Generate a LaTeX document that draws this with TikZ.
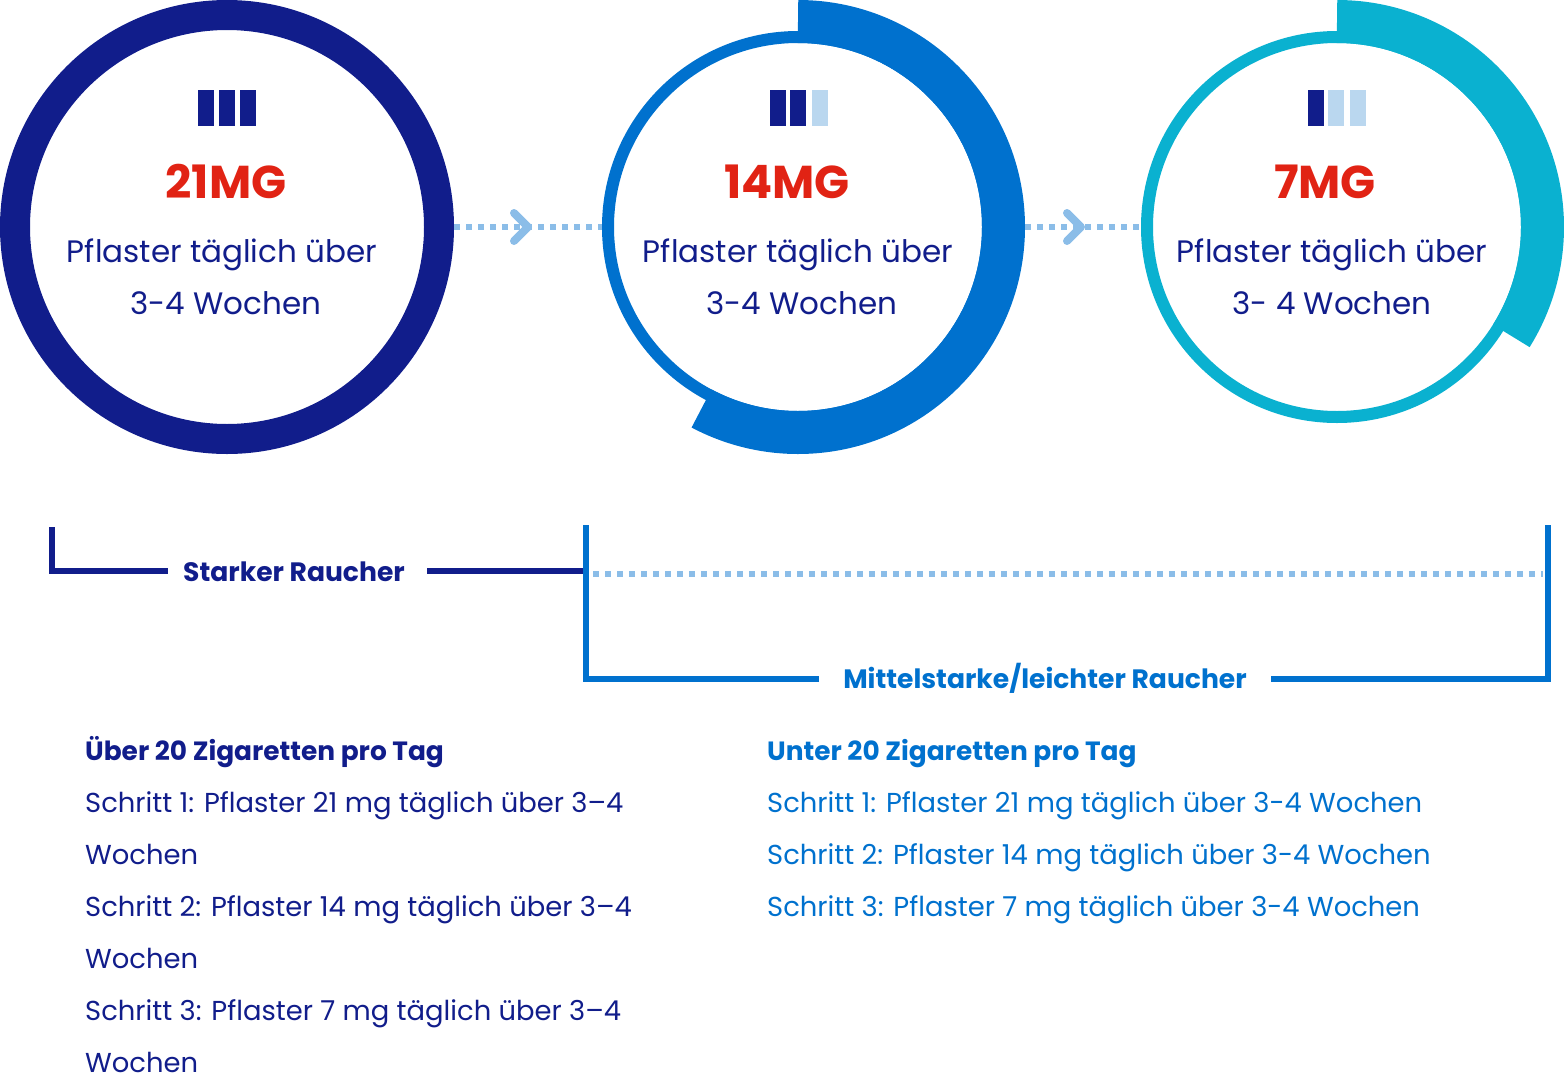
\documentclass[tikz,border=0pt]{standalone}
\usepackage{fontspec}
\setmainfont{Poppins}
\usetikzlibrary{calc}
\definecolor{navy}{RGB}{17,29,139}
\definecolor{mblue}{RGB}{0,113,206}
\definecolor{mcyan}{RGB}{10,177,208}
\definecolor{mred}{RGB}{225,35,20}
\definecolor{lbar}{RGB}{186,215,239}
\definecolor{dotc}{RGB}{139,189,232}
\begin{document}
\begin{tikzpicture}[x=1pt,y=-1pt,
  ring/.style={circle,inner sep=0pt},
  mg/.style={text=mred,font=\fontsize{46}{52}\selectfont\bfseries,inner sep=0pt,anchor=base},
  ctext/.style={text=navy,font=\fontsize{31}{36}\selectfont,inner sep=0pt,anchor=base},
  dotline/.style={dotc,line width=5.5pt,dash pattern=on 5.5pt off 6.5pt},
  chev/.style={dotc,line width=8pt,line cap=round,line join=round},
  lbl/.style={font=\fontsize{26.6}{30}\selectfont\bfseries,inner sep=0pt,anchor=base},
  btext/.style={font=\fontsize{27.4}{32}\selectfont,inner sep=0pt,anchor=base west},
  bhead/.style={font=\fontsize{26.4}{30}\selectfont\bfseries,inner sep=0pt,anchor=base west},
  brk/.style={line width=6pt}]
\useasboundingbox (0,0) rectangle (1564,1090);

% circles
\node[ring,draw=navy,line width=30pt,outer sep=15pt,minimum size=424pt] (c1) at (227,227) {};
\node[ring,draw=mblue,line width=12pt,outer sep=6pt,minimum size=380pt] (c2) at (798,227) {};
\node[ring,draw=mcyan,line width=12pt,outer sep=6pt,minimum size=380pt] (c3) at (1337,227) {};
\draw[mblue,line width=43pt] (c2.center) ++(-90:205.5) arc[start angle=-90,end angle=118,radius=205.5];
\draw[mcyan,line width=43pt] (c3.center) ++(-90:205.5) arc[start angle=-90,end angle=32,radius=205.5];
\coordinate (c2e) at ($(c2.center)+(227,0)$);

% bars
\fill[navy] (198,90) rectangle (214,126);
\fill[navy] (219,90) rectangle (235,126);
\fill[navy] (240,90) rectangle (256,126);
\fill[navy] (770,90) rectangle (786,126);
\fill[navy] (790,90) rectangle (806,126);
\fill[lbar] (812,90) rectangle (828,126);
\fill[navy] (1308,90) rectangle (1324,126);
\fill[lbar] (1328,90) rectangle (1344,126);
\fill[lbar] (1350,90) rectangle (1366,126);

% circle texts
\node[mg] (m1) at (226,198) {21MG};
\node[ctext] (p1) at (222,262) {Pflaster täglich über};
\node[ctext] (w1) at (226,314) {3-4 Wochen};
\node[mg] (m2) at (787,198) {14MG};
\node[ctext] (p2) at (798,262) {Pflaster täglich über};
\node[ctext] (w2) at (802,314) {3-4 Wochen};
\node[mg] (m3) at (1325,198) {7MG};
\node[ctext] (p3) at (1332,262) {Pflaster täglich über};
\node[ctext] (w3) at (1332,314) {3- 4 Wochen};

% connectors
\draw[dotline] (c1.east) -- (c2.west);
\draw[dotline] (c2e) -- (c3.west);
\draw[chev] (514,213) -- (528,227) -- (514,241);
\draw[chev] (1067,213) -- (1081,227) -- (1067,241);

% brackets
\node[lbl,text=navy] (sr) at (294,581) {Starker Raucher};
\coordinate (a1) at (52,527);
\coordinate (a2) at (168,571);
\coordinate (a3) at (427,571);
\coordinate (a4) at (583,571);
\draw[brk,navy] (a1) |- (a2);
\draw[brk,navy] (a3) -- (a4);

\node[lbl,text=mblue] (mr) at (1045,688) {Mittelstarke/leichter Raucher};
\coordinate (b1) at (586,525);
\coordinate (b2) at (819,679);
\coordinate (b3) at (1271,679);
\coordinate (b4) at (1548,525);
\coordinate (d1) at (593,574);
\coordinate (d2) at (1543,574);
\draw[brk,mblue] (b2) -| (b1);
\draw[brk,mblue] (b3) -| (b4);
\draw[dotline] (d1) -- (d2);

% bottom texts
\node[bhead,text=navy] (l0) at (85,760) {Über 20 Zigaretten pro Tag};
\node[btext,text=navy] (l1) at (85,812) {Schritt 1: Pflaster 21 mg täglich über 3–4};
\node[btext,text=navy] (l2) at (85,864) {Wochen};
\node[btext,text=navy] (l3) at (85,916) {Schritt 2: Pflaster 14 mg täglich über 3–4};
\node[btext,text=navy] (l4) at (85,968) {Wochen};
\node[btext,text=navy] (l5) at (85,1020) {Schritt 3: Pflaster 7 mg täglich über 3–4};
\node[btext,text=navy] (l6) at (85,1072) {Wochen};
\node[bhead,text=mblue] (r0) at (767,760) {Unter 20 Zigaretten pro Tag};
\node[btext,text=mblue] (r1) at (767,812) {Schritt 1: Pflaster 21 mg täglich über 3-4 Wochen};
\node[btext,text=mblue] (r2) at (767,864) {Schritt 2: Pflaster 14 mg täglich über 3-4 Wochen};
\node[btext,text=mblue] (r3) at (767,916) {Schritt 3: Pflaster 7 mg täglich über 3-4 Wochen};
\end{tikzpicture}
\end{document}
